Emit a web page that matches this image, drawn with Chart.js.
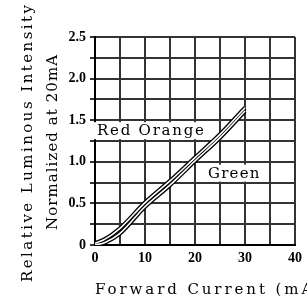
<!DOCTYPE html>
<html>
<head>
<meta charset="utf-8">
<script src="https://cdn.jsdelivr.net/npm/chart.js@4/dist/chart.umd.min.js"></script>
<style>
  html, body { margin: 0; padding: 0; background: #fff; }
  #wrap { width: 307px; height: 304px; }
</style>
</head>
<body>
<div id="wrap"><canvas id="ivChart"></canvas></div>
<script>
// forward current (mA) and relative intensity
const current = [0, 2, 5, 10, 15, 20, 25, 30];
const redOrange = [0.02, 0.07, 0.2, 0.51, 0.77, 1.05, 1.33, 1.65];
const green = [0, 0.03, 0.14, 0.46, 0.72, 1.01, 1.29, 1.61];

const yTickLabels = ["0", "0.5", "1.0", "1.5", "2.0", "2.5"];
const xTickLabels = ["0", "10", "20", "30", "40"];

const curveLabels = [
    { text: "Red Orange", x: 0.4, y: 1.38 },
    { text: "Green", x: 22.6, y: 0.87 }
];

const xTitle = "Forward Current (mA)";
const yTitle1 = "Relative Luminous Intensity";
const yTitle2 = "Normalized at 20mA";

const pts = (ys) => current.map((c, i) => ({ x: c, y: ys[i] }));

// each curve is a black stroke with a thin white core (double line look)
function curve(ys, name) {
    return [
        { label: name, data: pts(ys), borderColor: "#000", borderWidth: 4.2, pointRadius: 0,
          cubicInterpolationMode: "monotone", order: 2 },
        { label: name + " core", data: pts(ys), borderColor: "#fff", borderWidth: 1.6, pointRadius: 0,
          cubicInterpolationMode: "monotone", order: 1 }
    ];
}

const serif = "'Liberation Serif', 'DejaVu Serif', serif";
const wideSerif = "'DejaVu Serif', serif";

function spacedText(ctx, str, x, y, width) {
    ctx.letterSpacing = "0px";
    const w = ctx.measureText(str).width;
    const sp = (width - w) / (str.length - 1);
    ctx.letterSpacing = sp + "px";
    ctx.fillText(str, x, y);
    ctx.letterSpacing = "0px";
}

const textPlugin = {
    id: "texts",
    afterDatasetsDraw(chart) {
        const ctx = chart.ctx;
        const xs = chart.scales.x, ys = chart.scales.y;
        ctx.save();
        ctx.font = "15px " + wideSerif;
        ctx.textBaseline = "middle";
        ctx.textAlign = "left";
        curveLabels.forEach((l) => {
            const px = xs.getPixelForValue(l.x);
            const py = ys.getPixelForValue(l.y);
            const w = l.text.length * 11.1;
            ctx.fillStyle = "#fff";
            ctx.fillRect(px - 3, py - 8, w + 4, 17);
            ctx.fillStyle = "#000";
            spacedText(ctx, l.text, px, py + 1, w - 4);
        });
        ctx.restore();
    },
    afterDraw(chart) {
        const ctx = chart.ctx;
        ctx.save();
        ctx.fillStyle = "#000";
        ctx.font = "15px " + wideSerif;
        ctx.textBaseline = "alphabetic";
        ctx.textAlign = "left";
        spacedText(ctx, xTitle, 95, 294, 20 * 11.3);
        ctx.rotate(-Math.PI / 2);
        ctx.font = "15px " + wideSerif;
        spacedText(ctx, yTitle1, -282, 32, 277);
        spacedText(ctx, yTitle2, -230, 57, 175);
        ctx.restore();
    }
};

new Chart(document.getElementById("ivChart"), {
    type: "line",
    data: { datasets: [...curve(redOrange, "Red Orange"), ...curve(green, "Green")] },
    options: {
        responsive: true,
        maintainAspectRatio: false,
        animation: false,
        layout: { padding: { top: 37, right: 9, left: 0, bottom: 0 } },
        plugins: { legend: { display: false }, tooltip: { enabled: false } },
        scales: {
            x: {
                type: "linear", min: 0, max: 40,
                afterFit(s) { s.height = 59; },
                border: { color: "#000", width: 2 },
                grid: { color: "#333", lineWidth: 2, drawTicks: false },
                ticks: {
                    stepSize: 5, padding: 5, autoSkip: false, maxRotation: 0,
                    color: "#000", font: { family: serif, size: 14, weight: "bold" },
                    callback: (v) => (v % 10 === 0 ? xTickLabels[v / 10] : "")
                }
            },
            y: {
                min: 0, max: 2.5,
                afterFit(s) { s.width = 95; },
                border: { color: "#000", width: 2 },
                grid: { color: "#333", lineWidth: 2, tickLength: 5 },
                ticks: {
                    stepSize: 0.25, padding: 4, autoSkip: false,
                    color: "#000", font: { family: serif, size: 14, weight: "bold" },
                    callback: (v) => {
                        const k = Math.round(v * 2);
                        return Math.abs(v * 2 - k) < 1e-6 ? yTickLabels[k] : "";
                    }
                }
            }
        }
    },
    plugins: [textPlugin]
});
</script>
</body>
</html>
